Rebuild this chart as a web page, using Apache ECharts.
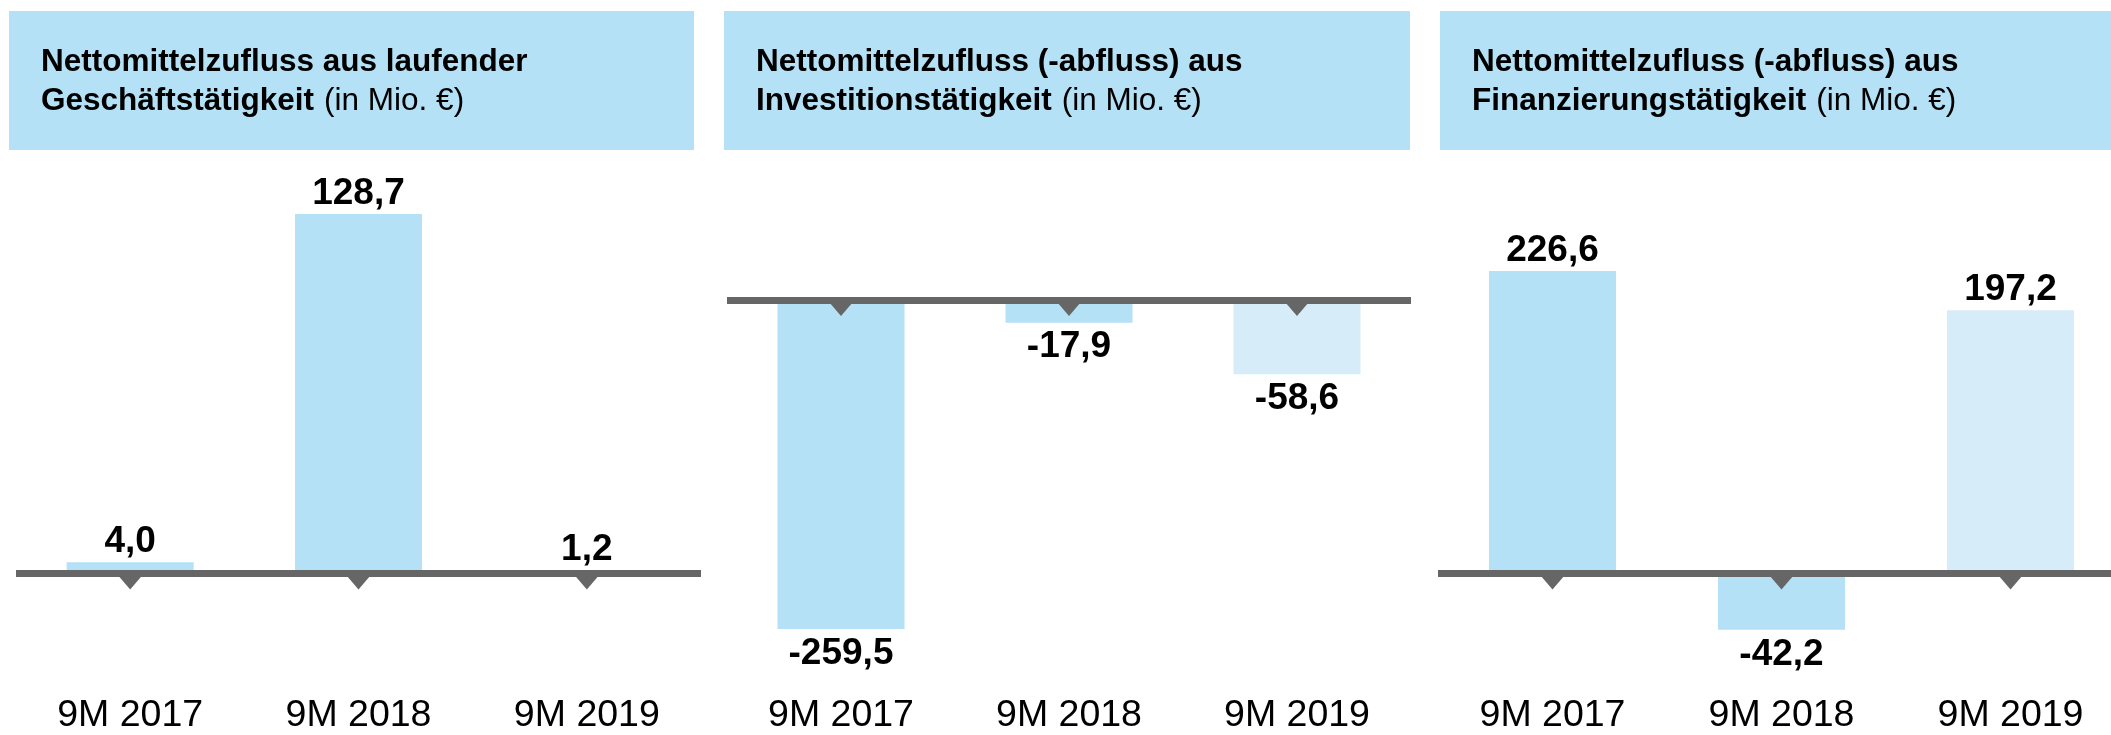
<!DOCTYPE html>
<html>
<head>
<meta charset="utf-8">
<title>Nettomittelzufluss 9M</title>
<script src="https://cdn.jsdelivr.net/npm/echarts@6/dist/echarts.min.js"></script>
<style>
  html, body { margin: 0; padding: 0; background: #fff; }
  #chart { width: 2111px; height: 735px; }
</style>
</head>
<body>
<div id="chart"></div>
<script>
// Daten (in Mio. €)
const categories = ['9M 2017', '9M 2018', '9M 2019']
const operating = [4.0, 128.7, 1.2]
const investing = [-259.5, -17.9, -58.6]
const financing = [226.6, -42.2, 197.2]

const titles = [
  ['Nettomittelzufluss aus laufender', 'Geschäftstätigkeit'],
  ['Nettomittelzufluss (-abfluss) aus', 'Investitionstätigkeit'],
  ['Nettomittelzufluss (-abfluss) aus', 'Finanzierungstätigkeit']
]

const BLUE = '#b4e1f6'
const LIGHT = '#d6ecf9'
const GREY = '#666666'
const FONT = 'Liberation Sans, Arial, sans-serif'

// panel layout: header box x/width, grid left/width, y range
const panels = [
  { data: operating, boxX: 9, boxW: 685, left: 16, width: 685, min: -38.1, max: 148.0 },
  { data: investing, boxX: 724, boxW: 686, left: 727, width: 684, min: -299.7, max: 110.4 },
  { data: financing, boxX: 1440, boxW: 671, left: 1438, width: 687, min: -79.8, max: 309.7 }
]

const fmt = v => v.toFixed(1).replace('.', ',')

const chart = echarts.init(document.getElementById('chart'))

const grid = []
const xAxis = []
const yAxis = []
const series = []
const title = []
const graphic = []

panels.forEach((p, i) => {
  graphic.push({
    type: 'rect',
    shape: { x: p.boxX, y: 11, width: p.boxW, height: 139 },
    style: { fill: BLUE },
    silent: true
  })
  title.push({
    left: p.boxX + 32,
    top: 43,
    padding: 0,
    text: '{b|' + titles[i][0] + '}\n{b|' + titles[i][1] + '}  {n|(in Mio. €)}',
    textStyle: {
      rich: {
        b: { fontFamily: FONT, fontSize: 31.5, fontWeight: 'bold', color: '#000', lineHeight: 39 },
        n: { fontFamily: FONT, fontSize: 31.5, fontWeight: 'normal', color: '#000', lineHeight: 39 }
      }
    }
  })
  grid.push({ left: p.left, width: p.width, top: 160, bottom: 55, outerBoundsMode: 'none' })
  yAxis.push({
    gridIndex: i,
    type: 'value',
    min: p.min,
    max: p.max,
    show: false
  })
  // Nulllinie
  xAxis.push({
    gridIndex: i,
    type: 'category',
    data: categories,
    z: 3,
    axisLine: { onZero: true, lineStyle: { color: GREY, width: 7, cap: 'butt' } },
    axisTick: { show: false },
    axisLabel: { show: false }
  })
  // Kategorien unten
  xAxis.push({
    gridIndex: i,
    type: 'category',
    data: categories,
    position: 'bottom',
    axisLine: { show: false, onZero: false },
    axisTick: { show: false },
    axisLabel: { fontFamily: FONT, fontSize: 37.5, color: '#000', margin: 17 }
  })
  series.push({
    type: 'bar',
    xAxisIndex: i * 2,
    yAxisIndex: i,
    barWidth: 127,
    clip: false,
    // negative Werte: Beschriftung unter dem Balken
    data: p.data.map(v => ({
      value: v,
      label: { position: v < 0 ? 'bottom' : 'top', distance: v < 0 ? 6 : 2 }
    })),
    itemStyle: {
      color: params => (params.dataIndex === 2 ? LIGHT : BLUE)
    },
    label: {
      show: true,
      fontFamily: FONT,
      fontSize: 37,
      fontWeight: 'bold',
      color: '#000',
      formatter: params => fmt(params.value)
    }
  })
  // kleine Dreiecke unter der Nulllinie
  series.push({
    type: 'scatter',
    xAxisIndex: i * 2,
    yAxisIndex: i,
    z: 5,
    symbol: 'triangle',
    symbolRotate: 180,
    symbolSize: [24, 14],
    symbolOffset: [0, 9],
    itemStyle: { color: GREY, opacity: 1 },
    silent: true,
    data: categories.map(() => 0)
  })
})

chart.setOption({
  animation: false,
  title: title,
  graphic: graphic,
  grid: grid,
  xAxis: xAxis,
  yAxis: yAxis,
  series: series
})
</script>
</body>
</html>
